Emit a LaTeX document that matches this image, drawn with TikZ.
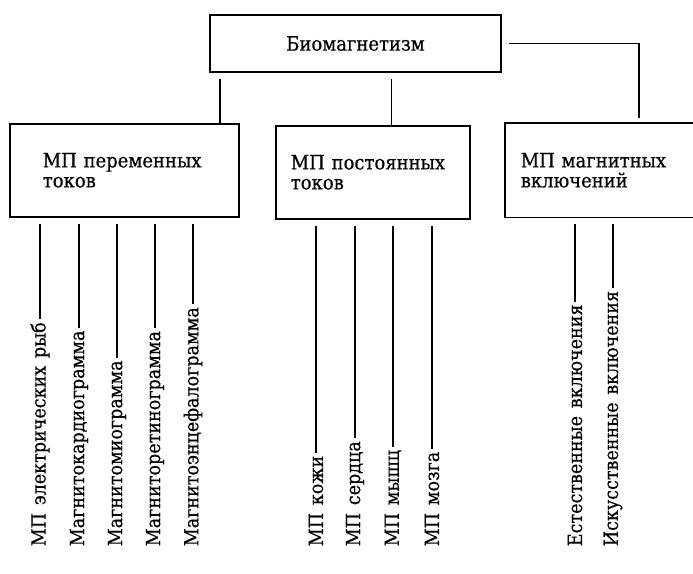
\documentclass[tikz,border=0pt]{standalone}
\usepackage{fontspec}
\setmainfont{DejaVu Serif Condensed}[FakeBold=0.4,WordSpace=1.4]
\usepackage{tikz}
\usetikzlibrary{positioning}

\begin{document}
\begin{tikzpicture}[x=1pt,y=-1pt,
  line width=1.6pt,
  box/.style={align=left, anchor=north west, minimum height=93pt, inner ysep=0pt, font=\fontsize{20}{20}\selectfont},
  lab/.style={rotate=90, anchor=west, inner sep=2pt, font=\fontsize{19.5}{24}\selectfont},
  link/.style={shorten >=6pt}]

\useasboundingbox (0,0) rectangle (693,573);

% main box
\node[draw, minimum width=291pt, minimum height=57pt, font=\fontsize{20}{24}\selectfont] (bio) at (355.5,43.5) {Биомагнетизм};

% second level boxes
{
\node[box, draw, text width=163pt, inner xsep=33pt] (alt) at (9,123) {МП переменных\\токов};
\node[box, draw, text width=164pt, inner xsep=15pt] (dc) at (275,125) {МП постоянных\\токов};
\node[box, text width=158pt, inner xsep=15pt] (incl) at (505,123) {МП магнитных\\включений};
\draw (incl.north east)--(incl.north west)--(incl.south west)--(incl.south east);
}

% links from the main box
{
\draw ([xshift=11pt,yshift=-6pt]bio.south west) -- ([xshift=11pt]bio.south west |- alt.north);
\draw ([xshift=36pt,yshift=-6pt]bio.south) -- ([xshift=36pt]bio.south |- dc.north);
\draw ([xshift=7pt]bio.east) -| ([xshift=39pt,yshift=5pt]incl.north);
}

% labels under the boxes
{
\node[lab] (a1) at (40,549) {МП электрических рыб};
\node[lab] (a2) at (79,549) {Магнитокардиограмма};
\node[lab] (a3) at (117,549) {Магнитомиограмма};
\node[lab] (a4) at (155,549) {Магниторетинограмма};
\node[lab] (a5) at (193,549) {Магнитоэнцефалограмма};

\node[lab] (d1) at (316,549) {МП кожи};
\node[lab] (d2) at (355,549) {МП сердца};
\node[lab] (d3) at (393,549) {МП мышц};
\node[lab] (d4) at (432,549) {МП мозга};

\node[lab] (i1) at (575,549) {Естественные включения};
\node[lab] (i2) at (613,549) {Искусственные включения};
}

% links down to the labels
{
\foreach \n in {a1,a2,a3,a4,a5}
  \draw[link] (\n.east) -- (\n.east |- alt.south);
\foreach \n in {d1,d2,d3,d4}
  \draw[link] (\n.east) -- (\n.east |- dc.south);
\foreach \n in {i1,i2}
  \draw[link] (\n.east) -- (\n.east |- incl.south);
}

\end{tikzpicture}
\end{document}
